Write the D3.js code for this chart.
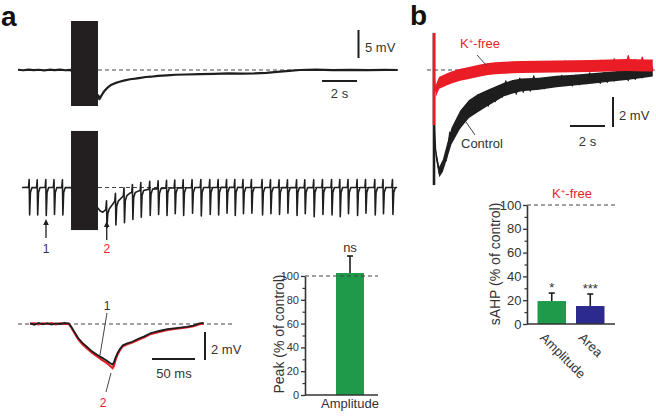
<!DOCTYPE html>
<html><head><meta charset="utf-8">
<script src="https://cdn.jsdelivr.net/npm/d3@7"></script>
<style>
body{margin:0;background:#fff}
svg{display:block;font-family:"Liberation Sans",Arial,Helvetica,sans-serif}
</style></head><body>
<svg id="c" width="656" height="416"></svg>
<script>
// ---------- DATA ----------
// Panel a, top trace (time s, membrane potential mV relative to baseline)
const topT = [0,0.3,0.6,0.9,1.2,1.5,1.8,2.1,2.4,2.7,3.0,4.6,4.65,4.8,4.95,5.1,5.3,5.55,5.8,6.1,6.4,6.7,7.0,7.3,7.6,8.0,8.5,9.0,9.6,10.4,11.2,12.0,12.8,13.5,14.2,14.8,15.5,16.1,17,18,19,20,21,21.7];
const topV = [0.05,-0.05,0.08,-0.03,0.04,-0.06,0.05,-0.02,0.06,-0.04,0.02,-4.6,-5.2,-4.4,-3.7,-3.2,-2.7,-2.35,-2.1,-1.85,-1.65,-1.55,-1.4,-1.25,-1.2,-1.05,-0.95,-0.85,-0.8,-0.72,-0.68,-0.62,-0.65,-0.6,-0.5,-0.35,-0.15,0.0,0.05,-0.03,0.04,-0.02,0.03,0.0];
// Panel a, middle trace baseline (time s, mV)
const midT = [0.23,0.5,1.0,1.5,2.0,2.5,3.0,4.57,4.7,4.85,5.0,5.2,5.45,5.7,6.0,6.4,6.9,7.5,8.5,10,12,14,16,18,20,21.66];
const midV = [0,0.02,-0.02,0.01,0,-0.02,0.01,-3.7,-4.2,-4.4,-4.0,-3.4,-2.8,-2.1,-1.55,-1.0,-0.6,-0.3,-0.1,0,0.02,0,-0.02,0.01,0,0];
// Evoked spikes: times (s) and trough potential (mV)
const spikeT = [0.65,1.11,1.60,2.07,2.55,5.07,5.58,6.07,6.55,7.03,7.54,8.02,8.50,8.97,9.45,9.96,10.46,10.97,11.45,11.93,12.40,12.87,13.35,13.96,14.44,14.93,15.41,15.93,16.40,16.91,17.41,17.93,18.40,18.87,19.39,19.87,20.40,20.87,21.41];
const spikeMin = [-4.9,-4.9,-5.0,-4.8,-4.9,-7.2,-6.7,-6.3,-5.7,-5.3,-5.0,-4.8,-5.0,-4.7,-5.0,-4.6,-5.1,-4.8,-4.9,-4.6,-5.0,-4.7,-4.6,-4.9,-4.7,-4.8,-4.6,-5.0,-4.7,-5.2,-4.8,-4.9,-5.2,-4.7,-5.0,-4.6,-4.9,-4.7,-4.8];
const stimWin = [3.03, 4.57];
const stimTopMV = [8.75, -6.43];
const stimMidMV = [10.1, -7.6];
// Panel a inset: averaged sAHP, time (ms), mV; trace 1 (black) and trace 2 (red)
const insT  = [0,5,10,15,20,25,30,35,40,45,48,52,56,61,66,72,78,84,89,93,96,97.5,99.5,102,105,108,113,119,126,133,140,150,160,170,182,190,197,202];
const insV1 = [0.05,-0.05,0.08,-0.02,0.06,-0.04,0.05,0,0.07,0.03,-0.2,-0.6,-1.0,-1.35,-1.62,-1.95,-2.2,-2.42,-2.6,-2.78,-2.9,-2.75,-2.4,-2.05,-1.75,-1.52,-1.38,-1.27,-1.05,-0.88,-0.66,-0.5,-0.37,-0.3,-0.2,-0.12,0.05,0.08];
const insV2 = [0.02,0.04,-0.03,0.05,0.0,0.06,-0.02,0.04,0.0,0.02,-0.25,-0.68,-1.08,-1.45,-1.72,-2.05,-2.32,-2.58,-2.78,-2.98,-3.15,-3.0,-2.55,-2.15,-1.82,-1.58,-1.45,-1.32,-1.12,-0.95,-0.72,-0.56,-0.42,-0.34,-0.24,-0.16,-0.02,0.03];
// Panel a bar chart
const catsA = ["Amplitude"];
const valsA = [102.5];
const errA  = [14.3];
const sigA  = ["ns"];
// Panel b traces: time (s) after stimulus, mV
const bT = [0.1,0.3,0.5,0.7,0.9,1.1,1.3,1.5,1.7,1.9,2.1,2.3,2.5,2.7,2.9,3.1,3.3,3.5,3.7,3.9,4.1,4.3,4.5,4.7,4.9,5.1,5.3,5.5,5.7,5.9,6.1,6.3,6.5,6.7,6.9,7.1,7.3,7.5,7.7,7.9,8.1,8.3,8.5,8.7,8.9,9.1,9.3,9.5,9.7,9.9,10.1,10.3,10.5,10.7,10.9,11.1,11.3,11.5,11.7,11.9,12.1,12.3,12.5];
const controlV = [-5.5,-6.9,-6.1,-6.05,-4.15,-4.45,-3.3,-3.85,-2.55,-3.2,-2.18,-2.8,-1.67,-2.45,-1.57,-2.4,-1.27,-2.1,-1.18,-1.81,-0.72,-1.55,-0.72,-1.6,-0.55,-1.48,-0.67,-1.41,-0.4,-1.28,-0.62,-1.25,-0.52,-1.16,-0.57,-1.07,-0.36,-0.97,-0.42,-1.06,-0.34,-0.99,-0.41,-0.91,-0.19,-0.8,-0.25,-0.89,-0.17,-0.82,-0.23,-0.73,-0.02,-0.62,-0.07,-0.71,0.02,-0.62,-0.03,-0.52,0.2,-0.4,0.15];
const kfreeV = [-1.4,-0.6,-1.05,-0.35,-0.9,-0.15,-0.7,0.0,-0.6,0.1,-0.5,0.15,-0.4,0.3,-0.3,0.4,-0.2,0.45,-0.15,0.5,-0.2,0.45,-0.1,0.55,-0.1,0.5,-0.05,0.45,-0.1,0.55,-0.05,0.5,0.0,0.55,-0.05,0.5,0.0,0.6,-0.05,0.5,0.0,0.55,-0.05,0.6,0.0,0.5,0.05,0.65,-0.05,0.6,0.0,0.75,0.0,0.6,0.05,0.95,0.0,0.7,0.05,0.85,0.0,0.6,0.1];
// Noise envelopes of the panel b traces (time s, mV)
const bandT   = [0.1,0.3,0.5,0.75,1,1.5,2,2.5,3,3.5,4,4.5,5,6,7,8,9,10,11,12,12.5];
const blackHi = [-5.2,-6.45,-6.0,-4.9,-3.85,-2.7,-2.0,-1.62,-1.35,-1.1,-0.85,-0.67,-0.57,-0.52,-0.39,-0.31,-0.21,-0.11,-0.01,0.12,0.17];
const blackLo = [-5.8,-7.15,-6.8,-5.9,-4.95,-3.9,-3.2,-2.82,-2.45,-2.1,-1.75,-1.57,-1.41,-1.32,-1.15,-1.03,-0.91,-0.79,-0.67,-0.52,-0.43];
const redHi   = [-1.0,-0.45,-0.35,-0.22,-0.1,0.08,0.2,0.33,0.45,0.52,0.55,0.58,0.6,0.62,0.64,0.65,0.67,0.7,0.73,0.7,0.7];
const redLo   = [-1.8,-1.25,-1.15,-1.02,-0.9,-0.72,-0.6,-0.47,-0.35,-0.28,-0.25,-0.22,-0.2,-0.18,-0.16,-0.15,-0.13,-0.1,-0.07,-0.1,-0.1];
const stimB = [2.47, -3.67, -7.67];
// Panel b bar chart
const catsB = ["Amplitude","Area"];
const valsB = [19.3, 15.1];
const errB  = [6.7, 10.1];
const sigB  = ["*","***"];
const yTicks = [0,20,40,60,80,100];
const yMinor = [10,30,50,70,90];

// ---------- DRAW ----------
const svg = d3.select('#c');
const INK = '#1e1e1e', RED = '#ea1d27', GREEN = '#1f9a4b', BLUE = '#2c2a8c', AX = '#333';
const FS = 13;

function txt(x, y, s, opt={}) {
  return svg.append('text').attr('x', x).attr('y', y).text(s)
    .attr('font-size', opt.fs || FS).attr('fill', opt.fill || AX)
    .attr('text-anchor', opt.anchor || 'start').attr('font-weight', opt.fw || 'normal');
}
function dashed(x1, x2, y) {
  svg.append('line').attr('x1', x1).attr('x2', x2).attr('y1', y).attr('y2', y)
    .attr('stroke', '#444').attr('stroke-width', 1.2).attr('stroke-dasharray', '4,3');
}
function seg(x1, y1, x2, y2, w, c) {
  svg.append('line').attr('x1', x1).attr('y1', y1).attr('x2', x2).attr('y2', y2)
    .attr('stroke', c || INK).attr('stroke-width', w || 2);
}
function zip(a, b) { return a.map((d, i) => [d, b[i]]); }

// panel labels
txt(1, 26, 'a', {fs: 28, fw: 'bold', fill: '#111'});
txt(410, 25, 'b', {fs: 28, fw: 'bold', fill: '#111'});

// ---- Panel a: long traces
const xA = d3.scaleLinear().domain([0, 2]).range([18, 53]);
const yTop = d3.scaleLinear().domain([0, 5]).range([70, 42]);
const yMid = d3.scaleLinear().domain([0, 5]).range([187.5, 159.5]);

dashed(xA(stimWin[1]), xA(21.7), yTop(0));
svg.append('path').datum(zip(topT, topV))
  .attr('d', d3.line().x(d => xA(d[0])).y(d => yTop(d[1])))
  .attr('fill', 'none').attr('stroke', INK).attr('stroke-width', 2.2).attr('stroke-linejoin', 'round');
svg.append('rect').attr('x', xA(stimWin[0])).attr('width', xA(stimWin[1]) - xA(stimWin[0]))
  .attr('y', yTop(stimTopMV[0])).attr('height', yTop(stimTopMV[1]) - yTop(stimTopMV[0])).attr('fill', '#231f20');

// scale bars (top)
seg(358.5, 30, 358.5, 30 + (yTop(0) - yTop(5)), 2);
txt(365, 52, '5 mV');
seg(322, 81, 322 + (xA(2) - xA(0)), 81, 2);
txt(339.5, 98, '2 s', {anchor: 'middle'});

// middle trace with spikes
const baseAt = t => {
  const i = d3.bisectLeft(midT, t);
  if (i <= 0) return midV[0];
  if (i >= midT.length) return midV[midT.length - 1];
  const t0 = midT[i-1], t1 = midT[i];
  return midV[i-1] + (midV[i] - midV[i-1]) * (t - t0) / (t1 - t0);
};
let midPts = zip(midT, midV).filter(p => !spikeT.some(s => p[0] > s - 0.05 && p[0] < s + 0.15));
spikeT.forEach((s, i) => {
  const b = baseAt(s);
  midPts.push([s - 0.05, b], [s - 0.012, b + 1.4], [s + 0.015, spikeMin[i]], [s + 0.06, b - 0.9], [s + 0.15, b]);
});
midPts.sort((a, b) => a[0] - b[0]);
dashed(xA(stimWin[1]), xA(21.66), yMid(0));
svg.append('path').datum(midPts)
  .attr('d', d3.line().x(d => xA(d[0])).y(d => yMid(d[1])))
  .attr('fill', 'none').attr('stroke', INK).attr('stroke-width', 1.6).attr('stroke-linejoin', 'round');
svg.append('rect').attr('x', xA(stimWin[0])).attr('width', xA(stimWin[1]) - xA(stimWin[0]))
  .attr('y', yMid(stimMidMV[0])).attr('height', yMid(stimMidMV[1]) - yMid(stimMidMV[0])).attr('fill', '#231f20');

// arrows 1 and 2
function arrow(x, yTip, yTail, label, col) {
  seg(x, yTip + 4, x, yTail, 1.3, INK);
  svg.append('path').attr('d', `M${x},${yTip} L${x-2.8},${yTip+6} L${x+2.8},${yTip+6} Z`).attr('fill', INK);
  txt(x, 253, label, {anchor: 'middle', fill: col, fs: 12});
}
arrow(xA(1.60), 219, 238, '1', '#333');
arrow(xA(5.07), 221, 240, '2', RED);

// ---- Panel a inset
const xI = d3.scaleLinear().domain([0, 50]).range([30, 73]);
const yI = d3.scaleLinear().domain([0, 2]).range([324, 296]);
dashed(18, 232, yI(0));
const lineI = d3.line().x(d => xI(d[0])).y(d => yI(d[1]));
svg.append('path').datum(zip(insT, insV2)).attr('d', lineI)
  .attr('fill', 'none').attr('stroke', RED).attr('stroke-width', 2.2);
svg.append('path').datum(zip(insT, insV1)).attr('d', lineI)
  .attr('fill', 'none').attr('stroke', INK).attr('stroke-width', 1.8);
seg(107, 313, 100, 355, 1, '#444');
txt(107, 310, '1', {anchor: 'middle', fs: 12});
seg(111, 373, 106, 392, 1, '#444');
txt(103, 407, '2', {anchor: 'middle', fs: 12, fill: RED});
seg(205, 332, 205, 332 + (yI(0) - yI(2)), 2);
txt(211, 354, '2 mV');
seg(152, 359, 152 + (xI(50) - xI(0)), 359, 2);
txt(174, 378, '50 ms', {anchor: 'middle'});

// ---- bar chart helper
function barChart(cfg) {
  const y = d3.scaleLinear().domain([0, 100]).range(cfg.yr);
  const x = d3.scaleBand().domain(cfg.cats).range(cfg.xr).paddingInner(cfg.pi).paddingOuter(cfg.po);
  const g = svg.append('g');
  dashed(cfg.ax, cfg.xEnd, y(100));
  g.selectAll('rect.bar').data(cfg.vals).join('rect').attr('class', 'bar')
    .attr('x', (d, i) => x(cfg.cats[i])).attr('width', x.bandwidth())
    .attr('y', d => y(d)).attr('height', d => y(0) - y(d))
    .attr('fill', (d, i) => cfg.colors[i]);
  cfg.vals.forEach((v, i) => {
    const cx = x(cfg.cats[i]) + x.bandwidth() / 2;
    seg(cx, y(v), cx, y(v + cfg.errs[i]), 1.6, INK);
    seg(cx - 3, y(v + cfg.errs[i]), cx + 3, y(v + cfg.errs[i]), 1.6, INK);
    txt(cx, y(v + cfg.errs[i]) + cfg.sigDy, cfg.sigs[i], {anchor: 'middle', fs: cfg.sigFs, fill: AX});
  });
  const ya = g.append('g').attr('transform', `translate(${cfg.ax},0)`)
    .call(d3.axisLeft(y).tickValues(yTicks).tickSize(4).tickSizeOuter(0).tickPadding(cfg.tPad).tickFormat(d3.format('d')));
  ya.selectAll('text').attr('font-size', cfg.tickFs).attr('fill', AX).attr('font-family', 'Liberation Sans, Arial, sans-serif');
  ya.selectAll('line').attr('stroke', AX).attr('stroke-width', 1.3);
  ya.select('.domain').attr('stroke', AX).attr('stroke-width', 1.6);
  const ym = g.append('g').attr('transform', `translate(${cfg.ax},0)`)
    .call(d3.axisLeft(y).tickValues(yMinor).tickSize(2.5).tickFormat(''));
  ym.select('.domain').remove();
  ym.selectAll('line').attr('stroke', AX).attr('stroke-width', 1.2);
  seg(cfg.ax, y(0), cfg.xEnd, y(0), 1.6, AX);
  const xa = g.append('g').attr('transform', `translate(0,${y(0)})`)
    .call(d3.axisBottom(x).tickSize(0).tickPadding(cfg.xPad));
  xa.select('.domain').remove();
  xa.selectAll('text').attr('font-size', FS).attr('fill', AX).attr('font-family', 'Liberation Sans, Arial, sans-serif');
  if (cfg.rotate) {
    xa.selectAll('text').attr('text-anchor', 'start').attr('dy', 0)
      .attr('transform', d => `translate(-11,13) rotate(45)`);
  }
  svg.append('text').attr('transform', `translate(${cfg.ylx},${cfg.yly}) rotate(-90)`)
    .attr('text-anchor', 'middle').attr('font-size', 14).attr('fill', AX).text(cfg.ylab);
  return y;
}

barChart({cats: catsA, vals: valsA, errs: errA, sigs: sigA, colors: [GREEN],
  yr: [395, 276], xr: [322, 378], pi: 0.5, po: 0.25, ax: 305, xEnd: 378,
  sigDy: -4, sigFs: 13, tickFs: 11, tPad: 2, xPad: 4, rotate: false,
  ylab: 'Peak (% of control)', ylx: 283.5, yly: 334});

barChart({cats: catsB, vals: valsB, errs: errB, sigs: sigB, colors: [GREEN, BLUE],
  yr: [324, 205], xr: [527, 615], pi: 0.26, po: 0.273, ax: 527, xEnd: 615,
  sigDy: -1, sigFs: 13, tickFs: 13, tPad: 1.5, xPad: 2, rotate: true,
  ylab: 'sAHP (% of control)', ylx: 499.5, yly: 264});

const kf = txt(572, 198, 'K', {anchor: 'middle', fill: RED});
kf.append('tspan').attr('baseline-shift', 'super').attr('font-size', 8).text('+');
kf.append('tspan').text('-free');

// ---- Panel b traces
const xB = d3.scaleLinear().domain([0, 2]).range([434, 469]);
const yB = d3.scaleLinear().domain([0, 2]).range([70, 40]);
dashed(427, 656, yB(0));
const lineB = d3.line().x(d => xB(d[0])).y(d => yB(d[1]));
const areaB = d3.area().x(d => xB(d[0])).y0(d => yB(d[1])).y1(d => yB(d[2]));
seg(xB(0), yB(stimB[0]), xB(0), yB(stimB[2]), 2.6, INK);
svg.append('path').datum(bandT.map((t, i) => [t, blackLo[i], blackHi[i]])).attr('d', areaB).attr('fill', INK);
svg.append('path').datum([[0, stimB[1] + 0.6], ...zip(bT, controlV)]).attr('d', lineB)
  .attr('fill', 'none').attr('stroke', INK).attr('stroke-width', 1.3).attr('stroke-linejoin', 'round');
svg.append('path').datum(bandT.map((t, i) => [t, redLo[i], redHi[i]])).attr('d', areaB).attr('fill', RED);
svg.append('path').datum([[0.02, -0.5], ...zip(bT, kfreeV)]).attr('d', lineB)
  .attr('fill', 'none').attr('stroke', RED).attr('stroke-width', 1.3).attr('stroke-linejoin', 'round');
seg(xB(0), yB(stimB[0]), xB(0), yB(stimB[1]), 2.6, RED);

const kf2 = txt(460, 48, 'K', {fill: RED});
kf2.append('tspan').attr('baseline-shift', 'super').attr('font-size', 8).text('+');
kf2.append('tspan').text('-free');
seg(477, 55, 487, 66, 1, '#444');
txt(461, 148, 'Control');
seg(475, 135, 466, 122, 1, '#444');
seg(613, 97, 613, 97 + (yB(0) - yB(2)), 2);
txt(619, 120, '2 mV');
seg(570, 126, 570 + (xB(2) - xB(0)), 126, 2);
txt(587.5, 146, '2 s', {anchor: 'middle'});
</script>
</body></html>
